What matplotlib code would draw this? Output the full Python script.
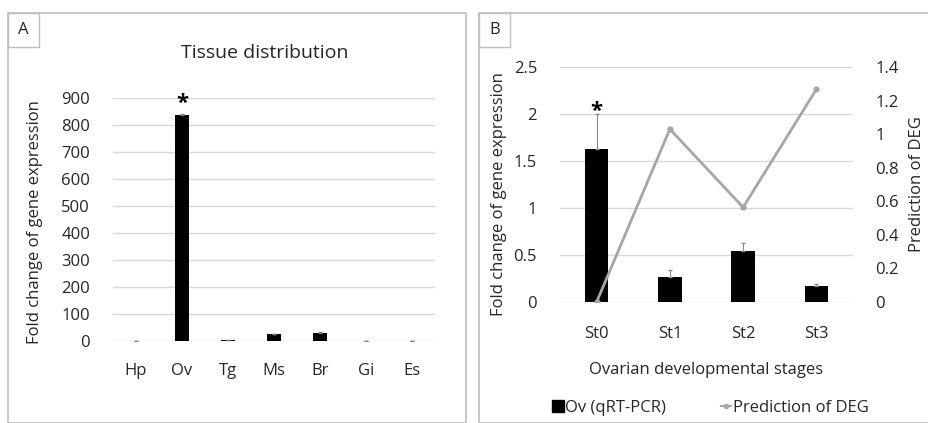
import matplotlib.pyplot as plt
from matplotlib.patches import Rectangle
from matplotlib.lines import Line2D

# data
tissues = ['Hp', 'Ov', 'Tg', 'Ms', 'Br', 'Gi', 'Es']
tissue_fold = [0.5, 835, 3, 25, 31, 0.3, 0.3]
tissue_err = [0.2, 3, 0.5, 1, 2, 0.1, 0.1]

stages = ['St0', 'St1', 'St2', 'St3']
stage_fold = [1.63, 0.27, 0.54, 0.17]
stage_err = [0.37, 0.07, 0.09, 0.02]
deg_pred = [0.0, 1.03, 0.564, 1.267]

plt.rcParams['font.family'] = ['Open Sans', 'DejaVu Sans']
W, H = 929, 423
fig = plt.figure(figsize=(W / 100, H / 100), dpi=100)

def fx(px):
    return px / W

def fy(py):
    return 1 - py / H

frame_col = '#bfbfbf'
grid_col = '#d9d9d9'
txt_col = '#262626'

# panel frames
fig.patches.append(Rectangle((fx(8), 0), fx(458), fy(13), transform=fig.transFigure,
                             fill=False, ec=frame_col, lw=1.2))
fig.patches.append(Rectangle((fx(479), 0), fx(460), fy(13), transform=fig.transFigure,
                             fill=False, ec=frame_col, lw=1.2))
for x0, lab in [(8, 'A'), (479, 'B')]:
    fig.patches.append(Rectangle((fx(x0), fy(47)), fx(31), 34 / H, transform=fig.transFigure,
                                 fill=False, ec=frame_col, lw=1.0))
    fig.text(fx(x0 + 15.5), fy(30), lab, ha='center', va='center', fontsize=12, color=txt_col)

def style(ax):
    for s in ax.spines.values():
        s.set_visible(False)
    ax.tick_params(length=0, labelsize=12, colors=txt_col)
    ax.yaxis.grid(True, color=grid_col, lw=1)
    ax.set_axisbelow(True)

# panel A
axA = fig.add_axes([fx(113), fy(341), fx(322), 243.5 / H])
style(axA)
axA.bar(range(len(tissues)), tissue_fold, width=0.3, color='black',
        yerr=[[0] * len(tissues), tissue_err], ecolor='#808080', capsize=1.5,
        error_kw={'lw': 0.8})
axA.set_xlim(-0.5, 6.5)
axA.set_ylim(0, 900)
axA.set_yticks(range(0, 901, 100))
axA.set_xticks(range(len(tissues)))
axA.set_xticklabels(tissues)
axA.tick_params(axis='x', pad=16)
axA.tick_params(axis='y', pad=16.5)
axA.text(1, 839, '*', ha='center', va='bottom', fontsize=16, fontweight='bold')
axA.set_ylabel('Fold change of gene expression', fontsize=12, color=txt_col)
axA.yaxis.set_label_coords(-0.217, 0.49)
fig.text(fx(265), fy(53), 'Tissue distribution', ha='center', va='center',
         fontsize=14, color=txt_col)

# panel B
axB = fig.add_axes([fx(560), fy(302), fx(293), 235 / H])
style(axB)
axB.bar(range(len(stages)), stage_fold, width=0.32, color='black',
        yerr=[[0] * len(stages), stage_err], ecolor='#8c8c8c', capsize=1.5,
        error_kw={'lw': 0.8})
axB.set_xlim(-0.5, 3.5)
axB.set_ylim(0, 2.5)
axB.set_yticks([0, 0.5, 1, 1.5, 2, 2.5])
axB.set_yticklabels(['0', '0.5', '1', '1.5', '2', '2.5'])
axB.set_xticks(range(len(stages)))
axB.set_xticklabels(stages)
axB.tick_params(axis='x', pad=17)
axB.tick_params(axis='y', pad=16.5)
axB.text(0, 1.92, '*', ha='center', va='bottom', fontsize=16, fontweight='bold')
axB.set_ylabel('Fold change of gene expression', fontsize=12, color=txt_col)
axB.yaxis.set_label_coords(-0.181, 0.46)
axB.set_xlabel('Ovarian developmental stages', fontsize=12, color=txt_col, labelpad=15)

axR = axB.twinx()
for s in axR.spines.values():
    s.set_visible(False)
axR.plot(range(len(stages)), deg_pred, color='#a6a6a6', lw=2, marker='o', ms=3.5)
axR.set_ylim(0, 1.4)
axR.set_yticks([0, 0.2, 0.4, 0.6, 0.8, 1.0, 1.2, 1.4])
axR.set_yticklabels(['0', '0.2', '0.4', '0.6', '0.8', '1', '1.2', '1.4'])
axR.tick_params(length=0, labelsize=12, colors=txt_col, pad=16)
axR.set_ylabel('Prediction of DEG', fontsize=12, color=txt_col, va='top')
axR.yaxis.set_label_coords((909 - 560) / 293, 0.5)

handles = [Line2D([], [], color='black', marker='s', ls='none', ms=9),
           Line2D([], [], color='#a6a6a6', marker='o', lw=1.5, ms=3)]
fig.legend(handles, ['Ov (qRT-PCR)', 'Prediction of DEG'], loc='center',
           bbox_to_anchor=(fx(711), fy(408)), ncol=2, frameon=False, fontsize=12,
           handlelength=0.6, handletextpad=0.1, columnspacing=3.3, labelcolor=txt_col)

fig.savefig('out.png', dpi=100)
